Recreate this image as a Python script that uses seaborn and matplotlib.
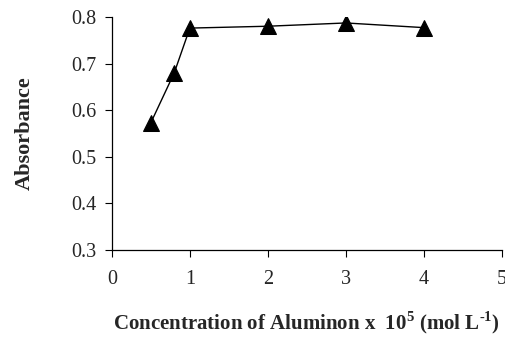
import pandas as pd
import matplotlib.pyplot as plt
import seaborn as sns

# Data
concentration = [0.5, 0.8, 1.0, 2.0, 3.0, 4.0]
absorbance = [0.573, 0.680, 0.776, 0.780, 0.787, 0.777]
x_ticks = [0, 1, 2, 3, 4, 5]
y_ticks = [0.3, 0.4, 0.5, 0.6, 0.7, 0.8]

df = pd.DataFrame({"conc": concentration, "abs": absorbance})

sns.set_style("ticks")
plt.rcParams["font.family"] = ["Liberation Serif", "DejaVu Serif"]
plt.rcParams["mathtext.fontset"] = "custom"
plt.rcParams["mathtext.rm"] = "Liberation Serif"
plt.rcParams["mathtext.bf"] = "Liberation Serif:bold"

fig = plt.figure(figsize=(5.06, 3.38), dpi=100)
ax = fig.add_axes([0.221, 0.260, 0.771, 0.690])

sns.lineplot(data=df, x="conc", y="abs", ax=ax, color="black", linewidth=1,
             marker="^", markersize=11, markeredgecolor="black",
             markerfacecolor="black")

ax.set_xlim(0, 5)
ax.set_ylim(0.3, 0.8)
ax.set_xticks(x_ticks)
ax.set_yticks(y_ticks)
ax.set_xticklabels([str(t) for t in x_ticks])
ax.set_yticklabels([f"{t:.1f}" for t in y_ticks])
ax.tick_params(labelsize=14.5, length=5, width=0.8, color="black", pad=6)
ax.tick_params(axis="x", pad=9)

sns.despine(ax=ax)
for s in ["left", "bottom"]:
    ax.spines[s].set_linewidth(0.9)
    ax.spines[s].set_color("black")

ax.set_ylabel("Absorbance", fontsize=16, fontweight="bold", labelpad=26)
ax.set_xlabel(r"Concentration of Aluminon x  10$^{\mathbf{5}}$ (mol L$^{\mathbf{\text{-}1}}$)",
              fontsize=15, fontweight="bold", labelpad=15)

fig.savefig("out.png", dpi=100)
